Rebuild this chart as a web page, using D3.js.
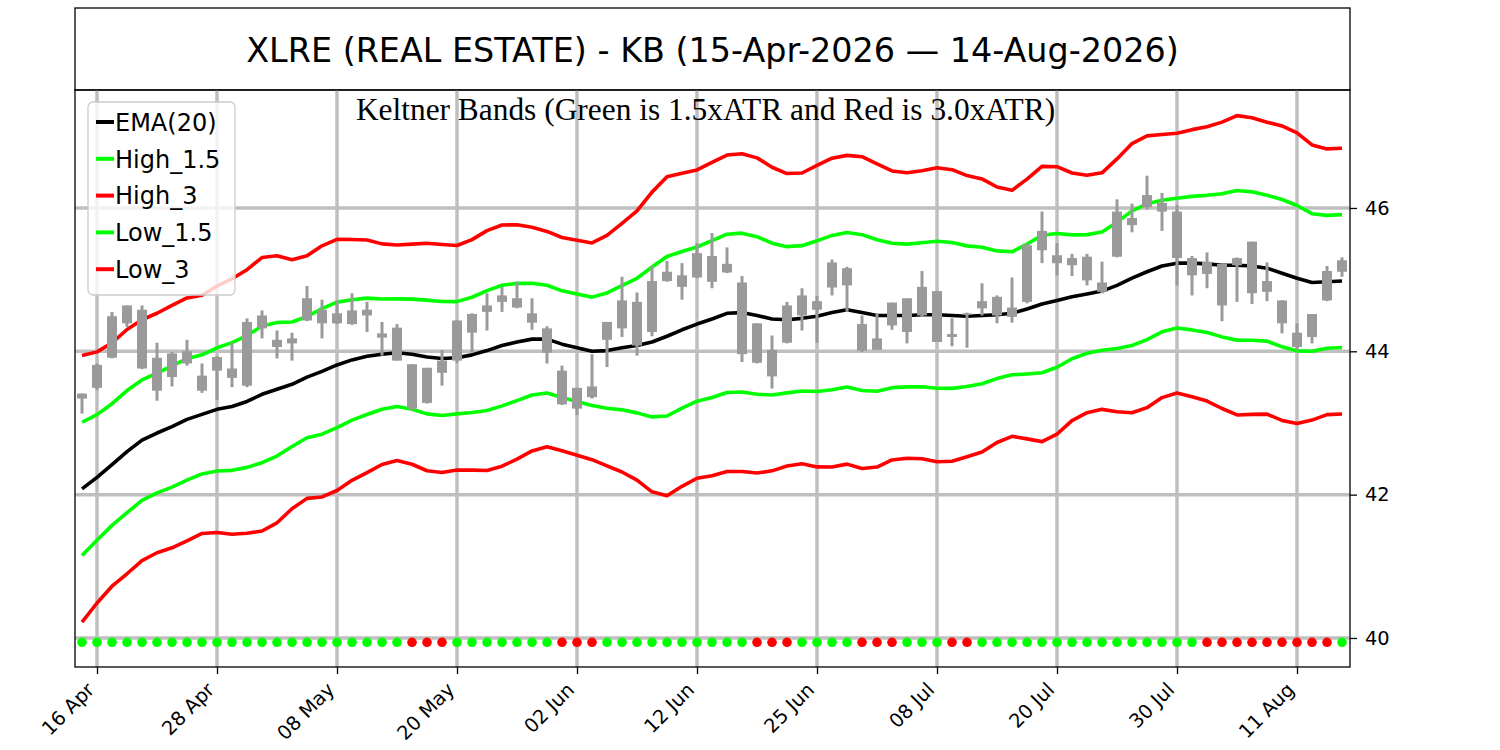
<!DOCTYPE html>
<html><head><meta charset="utf-8">
<script src="https://cdn.jsdelivr.net/npm/d3@7/dist/d3.min.js"></script>
<style>body{margin:0;background:#fff;} svg{display:block;}</style>
</head><body>
<svg id="chart" width="1500" height="750"></svg>
<script>
// ---------------- DATA ----------------
const dates = [
"2026-04-15","2026-04-16","2026-04-17","2026-04-20","2026-04-21","2026-04-22","2026-04-23","2026-04-24","2026-04-27","2026-04-28","2026-04-29","2026-04-30",
"2026-05-01","2026-05-04","2026-05-05","2026-05-06","2026-05-07","2026-05-08","2026-05-11","2026-05-12","2026-05-13","2026-05-14","2026-05-15","2026-05-18","2026-05-19","2026-05-20","2026-05-21","2026-05-22","2026-05-26","2026-05-27","2026-05-28","2026-05-29",
"2026-06-01","2026-06-02","2026-06-03","2026-06-04","2026-06-05","2026-06-08","2026-06-09","2026-06-10","2026-06-11","2026-06-12","2026-06-15","2026-06-16","2026-06-17","2026-06-18","2026-06-22","2026-06-23","2026-06-24","2026-06-25","2026-06-26","2026-06-29","2026-06-30",
"2026-07-01","2026-07-02","2026-07-06","2026-07-07","2026-07-08","2026-07-09","2026-07-10","2026-07-13","2026-07-14","2026-07-15","2026-07-16","2026-07-17","2026-07-20","2026-07-21","2026-07-22","2026-07-23","2026-07-24","2026-07-27","2026-07-28","2026-07-29","2026-07-30","2026-07-31",
"2026-08-03","2026-08-04","2026-08-05","2026-08-06","2026-08-07","2026-08-10","2026-08-11","2026-08-12","2026-08-13","2026-08-14"];

const tickDates  = ["2026-04-16","2026-04-28","2026-05-08","2026-05-20","2026-06-02","2026-06-12","2026-06-25","2026-07-08","2026-07-20","2026-07-30","2026-08-11"];
const tickLabels = ["16 Apr","28 Apr","08 May","20 May","02 Jun","12 Jun","25 Jun","08 Jul","20 Jul","30 Jul","11 Aug"];
const yTicks = [40, 42, 44, 46];

const open = [43.34,43.49,43.91,44.39,44.58,43.91,43.64,43.83,43.66,43.73,43.76,43.52,44.32,44.16,44.11,44.43,44.58,44.53,44.38,44.50,
44.25,44.33,43.82,43.28,43.70,43.87,44.26,44.55,44.69,44.74,44.53,44.32,43.73,43.49,43.36,44.16,44.32,44.69,44.27,44.98,
45.06,45.03,45.33,45.10,44.96,44.39,44.02,44.12,44.50,44.70,44.89,45.16,44.38,44.18,44.36,44.74,44.50,44.84,44.24,44.51,
44.60,44.76,44.61,44.69,45.41,45.34,45.30,45.32,44.96,45.32,45.76,46.01,46.07,45.95,45.30,45.25,45.22,45.20,45.53,44.98,
44.71,44.26,44.20,44.71,45.11];
const close = [43.41,43.81,44.49,44.64,43.76,43.45,43.97,44.00,43.45,43.92,43.63,44.41,44.50,44.06,44.18,44.74,44.39,44.39,44.57,44.58,
44.19,43.87,43.20,43.77,43.87,44.43,44.52,44.64,44.78,44.61,44.40,43.98,43.26,43.20,43.51,44.41,44.71,44.08,44.98,45.11,
44.90,45.37,44.97,45.22,43.96,43.84,43.65,44.64,44.78,44.58,45.24,44.92,44.01,44.02,44.68,44.27,44.90,44.13,44.20,44.53,
44.70,44.50,44.48,45.48,45.68,45.23,45.20,44.99,44.83,45.95,45.86,46.18,45.95,45.30,45.06,45.08,44.64,45.30,44.81,44.83,
44.39,44.06,44.52,45.12,45.27];
const high = [43.41,43.83,44.55,44.64,44.64,44.12,43.99,44.16,43.83,43.93,44.12,44.46,44.57,44.29,44.26,44.91,44.72,44.71,44.81,44.69,
44.41,44.38,43.82,43.77,44.02,44.44,44.53,44.81,44.90,44.97,44.74,44.35,43.80,43.49,43.96,44.41,45.04,44.82,45.19,45.26,
45.23,45.51,45.65,45.45,45.05,44.39,44.22,44.69,44.88,44.77,45.28,45.18,44.50,44.53,44.68,44.74,45.12,44.84,44.46,44.54,
44.95,44.78,45.03,45.51,45.95,45.51,45.36,45.36,45.25,46.12,46.06,46.45,46.21,46.04,45.33,45.38,45.22,45.31,45.53,45.24,
44.71,44.39,44.52,45.19,45.31];
const low = [43.13,43.46,43.90,44.34,43.75,43.31,43.51,43.80,43.42,43.32,43.50,43.50,44.18,43.90,43.87,44.42,44.18,44.38,44.37,44.27,
43.94,43.87,43.17,43.27,43.52,43.84,43.99,44.29,44.55,44.60,44.30,43.83,43.25,43.11,43.34,43.78,44.20,43.94,44.21,44.97,
44.72,45.02,44.88,45.09,43.85,43.83,43.48,44.11,44.29,44.12,44.78,44.55,43.99,44.02,44.30,44.11,44.48,44.13,44.07,44.05,
44.50,44.39,44.40,44.67,45.23,45.06,45.05,44.92,44.81,45.31,45.66,45.98,45.68,44.92,44.78,44.88,44.42,44.69,44.66,44.70,
44.25,44.01,44.11,44.70,45.04];

const ema = [42.08,42.24,42.42,42.60,42.76,42.86,42.95,43.05,43.12,43.19,43.23,43.30,43.40,43.47,43.54,43.64,43.72,43.81,43.88,43.93,
43.96,43.98,43.96,43.92,43.90,43.91,43.95,44.01,44.08,44.13,44.17,44.17,44.10,44.05,44.00,44.01,44.05,44.08,44.13,44.21,
44.30,44.38,44.45,44.53,44.54,44.50,44.45,44.44,44.46,44.49,44.54,44.58,44.54,44.50,44.50,44.50,44.51,44.51,44.50,44.49,
44.50,44.51,44.53,44.59,44.66,44.71,44.76,44.80,44.84,44.92,45.02,45.11,45.19,45.23,45.23,45.22,45.20,45.20,45.19,45.16,
45.09,45.02,44.96,44.97,44.98];
const atr = [0.620,0.584,0.566,0.568,0.560,0.557,0.564,0.565,0.554,0.573,0.594,0.613,0.636,0.621,0.579,0.564,0.584,0.584,0.560,0.541,
0.513,0.501,0.512,0.529,0.530,0.522,0.536,0.558,0.561,0.545,0.520,0.501,0.496,0.500,0.504,0.536,0.578,0.626,0.697,0.742,
0.728,0.717,0.729,0.736,0.739,0.733,0.706,0.680,0.676,0.701,0.718,0.718,0.725,0.705,0.672,0.664,0.670,0.684,0.678,0.654,
0.635,0.594,0.572,0.604,0.640,0.622,0.576,0.552,0.550,0.588,0.626,0.632,0.612,0.604,0.621,0.638,0.666,0.696,0.690,0.679,
0.685,0.676,0.640,0.618,0.618];
// 1 = squeeze (red dot), 0 = no squeeze (green dot)
const squeeze = [0,0,0,0,0,0,0,0,0,0,0,0,0,0,0,0,0,0,0,0,
0,0,1,1,1,0,0,0,0,0,0,0,1,1,1,0,0,0,0,0,
0,0,0,0,0,1,1,1,0,0,0,0,1,1,1,0,0,0,1,1,
0,0,0,0,0,0,0,0,0,0,0,0,0,0,0,1,1,1,1,1,
1,1,1,1,0];
const squeezeLevel = 39.94;
const bandMult = {"High_1.5": 1.5, "High_3": 3.0, "Low_1.5": -1.5, "Low_3": -3.0};
const seriesNames = ["EMA(20)","High_1.5","High_3","Low_1.5","Low_3"];
const seriesColors = ["#000000","#00ff00","#ff0000","#00ff00","#ff0000"];
const titleText = "XLRE (REAL ESTATE) - KB (15-Apr-2026 \u2014 14-Aug-2026)";
const subtitleText = "Keltner Bands (Green is 1.5xATR and Red is 3.0xATR)";

// ---------------- CHART ----------------
const svg = d3.select("#chart");
const L = 75, R = 1350, T = 90, B = 667;
const idx = d3.range(dates.length);
const x = d3.scaleLinear().domain([-0.467, dates.length - 0.467]).range([L, R]);
const y = d3.scaleLinear().domain([39.595, 47.646]).range([B, T]);
const tickIdx = tickDates.map(d => dates.indexOf(d));
const sans = "'DejaVu Sans', sans-serif";

// title box
svg.append("rect").attr("x", L).attr("y", 8).attr("width", R - L).attr("height", T - 8)
  .attr("fill", "#fff").attr("stroke", "#000").attr("stroke-width", 1.3);
svg.append("text").attr("x", (L + R) / 2).attr("y", 61.5).attr("text-anchor", "middle")
  .attr("font-family", sans).attr("font-size", 33.4).attr("fill", "#000").text(titleText);

const plot = svg.append("g");
const clipId = "plotclip";
svg.append("defs").append("clipPath").attr("id", clipId)
  .append("rect").attr("x", L).attr("y", T).attr("width", R - L).attr("height", B - T);

// grid
const grid = plot.append("g").attr("clip-path", `url(#${clipId})`);
grid.selectAll("line.v").data(tickIdx).join("line")
  .attr("x1", d => x(d)).attr("x2", d => x(d)).attr("y1", T).attr("y2", B)
  .attr("stroke", "#bfbfbf").attr("stroke-width", 3.5);
grid.selectAll("line.h").data(yTicks).join("line")
  .attr("x1", L).attr("x2", R).attr("y1", d => y(d)).attr("y2", d => y(d))
  .attr("stroke", "#bfbfbf").attr("stroke-width", 3.5);

// lines
const series = seriesNames.map((name, k) => ({
  name, color: seriesColors[k],
  values: idx.map(i => name === "EMA(20)" ? ema[i] : ema[i] + bandMult[name] * atr[i])
}));
const lineGen = d3.line().x((d, i) => x(i)).y(d => y(d));
const lines = plot.append("g").attr("clip-path", `url(#${clipId})`);
lines.selectAll("path").data(series).join("path")
  .attr("d", d => lineGen(d.values)).attr("fill", "none")
  .attr("stroke", d => d.color).attr("stroke-width", 3.6)
  .attr("stroke-linejoin", "round").attr("stroke-linecap", "butt");

// candles
const cg = plot.append("g").attr("clip-path", `url(#${clipId})`);
const bw = 10;
cg.selectAll("line.wick").data(idx).join("line")
  .attr("x1", i => x(i)).attr("x2", i => x(i))
  .attr("y1", i => y(high[i])).attr("y2", i => y(low[i]))
  .attr("stroke", "#9a9a9a").attr("stroke-width", 3);
cg.selectAll("rect.body").data(idx).join("rect")
  .attr("x", i => x(i) - bw / 2)
  .attr("y", i => y(Math.max(open[i], close[i])))
  .attr("width", bw)
  .attr("height", i => Math.max(1.5, y(Math.min(open[i], close[i])) - y(Math.max(open[i], close[i]))))
  .attr("fill", "#9a9a9a");

// squeeze dots
plot.append("g").selectAll("circle").data(idx).join("circle")
  .attr("cx", i => x(i)).attr("cy", y(squeezeLevel)).attr("r", 4.8)
  .attr("fill", i => squeeze[i] ? "#ff0000" : "#00ff00");

// frame
svg.append("rect").attr("x", L).attr("y", T).attr("width", R - L).attr("height", B - T)
  .attr("fill", "none").attr("stroke", "#000").attr("stroke-width", 1.3);

// axes
const yAxis = svg.append("g").attr("transform", `translate(${R},0)`)
  .call(d3.axisRight(y).tickValues(yTicks).tickSize(7).tickPadding(8).tickFormat(d3.format("d")));
yAxis.select(".domain").remove();
yAxis.selectAll("line").attr("stroke", "#000").attr("stroke-width", 1.3);
yAxis.selectAll("text").attr("font-family", sans).attr("font-size", 19.4).attr("fill", "#000");

const xAxis = svg.append("g").attr("transform", `translate(0,${B})`)
  .call(d3.axisBottom(x).tickValues(tickIdx).tickSize(7).tickFormat((d, k) => tickLabels[k]));
xAxis.select(".domain").remove();
xAxis.selectAll("line").attr("stroke", "#000").attr("stroke-width", 1.3);
xAxis.selectAll("text")
  .attr("font-family", sans).attr("font-size", 19.4).attr("fill", "#000")
  .attr("text-anchor", "end").attr("dy", null).attr("y", null).attr("x", null)
  .attr("transform", "translate(-2,24) rotate(-45)");

// subtitle
svg.append("text").attr("x", (L + R) / 2 - 7).attr("y", 120).attr("text-anchor", "middle")
  .attr("font-family", "'Liberation Serif', 'Times New Roman', serif").attr("font-size", 31.4)
  .attr("fill", "#000").text(subtitleText);

// legend
const lg = svg.append("g");
lg.append("rect").attr("x", 88).attr("y", 102).attr("width", 147).attr("height", 193)
  .attr("rx", 5).attr("fill", "#fff").attr("fill-opacity", 0.8)
  .attr("stroke", "#cccccc").attr("stroke-width", 1.3);
const rowY = k => 122 + k * 36.8;
lg.selectAll("line.h").data(series).join("line")
  .attr("x1", 96).attr("x2", 114).attr("y1", (d, k) => rowY(k)).attr("y2", (d, k) => rowY(k))
  .attr("stroke", d => d.color).attr("stroke-width", 4);
lg.selectAll("text").data(series).join("text")
  .attr("x", 115).attr("y", (d, k) => rowY(k) + 8.7)
  .attr("font-family", sans).attr("font-size", 24).attr("fill", "#000").text(d => d.name);
</script>
</body></html>
